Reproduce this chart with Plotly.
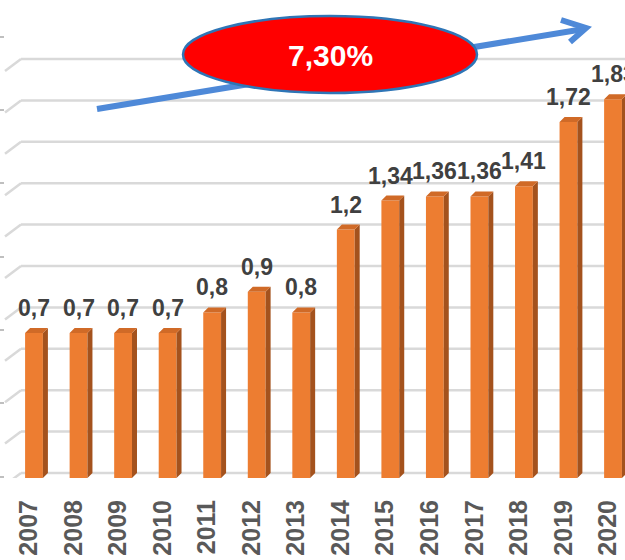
import plotly.graph_objects as go

years = ["2007", "2008", "2009", "2010", "2011", "2012", "2013",
         "2014", "2015", "2016", "2017", "2018", "2019", "2020"]
values = [0.7, 0.7, 0.7, 0.7, 0.8, 0.9, 0.8, 1.2, 1.34, 1.36, 1.36, 1.41, 1.72, 1.83]
grid_values = [0.0, 0.2, 0.4, 0.6, 0.8, 1.0, 1.2, 1.4, 1.6, 1.8, 2.0]
growth_label = "7,30%"

W, H = 625, 560
PLOT_H = 478
PX_PER_CAT = 44.54
PX_PER_UNIT = 207.0
x_lo = -34 / PX_PER_CAT
x_hi = x_lo + W / PX_PER_CAT
y_hi = PLOT_H / PX_PER_UNIT

FRONT = "#ED7D31"
SIDE = "#A4521D"
TOP = "#D06A27"
GRID = "#D9D9D9"
TXT = "#404040"
FONT = "Liberation Sans, Arial, sans-serif"

hw = 0.2                      # half bar width (category units)
dx = 5 / PX_PER_CAT           # depth offset x
dy = 5 / PX_PER_UNIT          # depth offset y

xs = list(range(len(years)))

fig = go.Figure()

# side faces
sx, sy = [], []
for i, v in zip(xs, values):
    sx += [i + hw, i + hw + dx, i + hw + dx, i + hw, i + hw, None]
    sy += [0, dy, v + dy, v, 0, None]
fig.add_trace(go.Scatter(x=sx, y=sy, fill="toself", fillcolor=SIDE, mode="lines",
                         line=dict(width=0, color=SIDE), hoverinfo="skip", showlegend=False))
# top faces
tx, ty = [], []
for i, v in zip(xs, values):
    tx += [i - hw, i - hw + dx, i + hw + dx, i + hw, i - hw, None]
    ty += [v, v + dy, v + dy, v, v, None]
fig.add_trace(go.Scatter(x=tx, y=ty, fill="toself", fillcolor=TOP, mode="lines",
                         line=dict(width=0, color=TOP), hoverinfo="skip", showlegend=False))
# front faces
fig.add_trace(go.Bar(x=xs, y=values, width=2 * hw, marker=dict(color=FRONT, line=dict(width=0)),
                     hoverinfo="skip", showlegend=False))

# data labels
for i, v in zip(xs, values):
    fig.add_annotation(x=i, y=v, xref="x", yref="y", text=f"{v:g}".replace(".", ","),
                       showarrow=False, xanchor="center", yanchor="bottom", yshift=10,
                       font=dict(family=FONT, size=23, color=TXT, weight="bold"))

# gridlines (back wall with slanted side-wall piece)
for g in grid_values:
    yb = g + dy
    fig.add_shape(type="line", xref="paper", yref="y", x0=21 / W, x1=1.02, y0=yb, y1=yb,
                  line=dict(color=GRID, width=2.5), layer="below")
    fig.add_shape(type="line", xref="paper", yref="y", x0=5 / W, x1=21 / W,
                  y0=yb - 12 / PX_PER_UNIT, y1=yb, line=dict(color=GRID, width=2.5), layer="below")

# small tick marks at the far left edge
for py in [37, 110, 183, 257, 330, 403, 477]:
    fig.add_shape(type="line", xref="paper", yref="paper", x0=0, x1=4 / W,
                  y0=(PLOT_H - py) / PLOT_H, y1=(PLOT_H - py) / PLOT_H,
                  line=dict(color="#BFBFBF", width=2), layer="below")

# trend arrow
def px(x):
    return x / W

def py_(y):
    return (PLOT_H - y) / PLOT_H

ARROW = "#4E89D8"
fig.add_shape(type="line", xref="paper", yref="paper", x0=px(97), y0=py_(109), x1=px(584), y1=py_(29),
              line=dict(color=ARROW, width=6))
fig.add_shape(type="path", xref="paper", yref="paper",
              path=f"M {px(561)} {py_(20)} L {px(586)} {py_(28)} L {px(570)} {py_(42)}",
              line=dict(color=ARROW, width=6))

# ellipse
fig.add_shape(type="circle", xref="paper", yref="paper", x0=px(183), x1=px(477), y0=py_(93), y1=py_(16),
              fillcolor="#FF0000", line=dict(color="#2E75B6", width=2.5))
fig.add_annotation(x=px(330), y=py_(56), xref="paper", yref="paper", text=growth_label,
                   showarrow=False, xanchor="center", yanchor="middle",
                   font=dict(family=FONT, size=30, color="white", weight="bold"))

fig.update_layout(
    width=W, height=H,
    margin=dict(l=0, r=0, t=0, b=H - PLOT_H, pad=0),
    paper_bgcolor="white", plot_bgcolor="white",
    xaxis=dict(range=[x_lo, x_hi], tickvals=xs, ticktext=years, tickangle=-90,
               showgrid=False, zeroline=False, showline=False, ticks="",
               tickfont=dict(family=FONT, size=25, color="#595959", weight="bold"),
               ticklabelstandoff=16, ticklabelshift=-5, fixedrange=True),
    yaxis=dict(range=[0, y_hi], showgrid=False, zeroline=False, showline=False,
               showticklabels=False, ticks="", fixedrange=True),
    showlegend=False,
)

fig.write_html("out.html", config={"displayModeBar": False},
               post_script="document.body.style.margin='0';document.body.style.overflow='hidden';")
